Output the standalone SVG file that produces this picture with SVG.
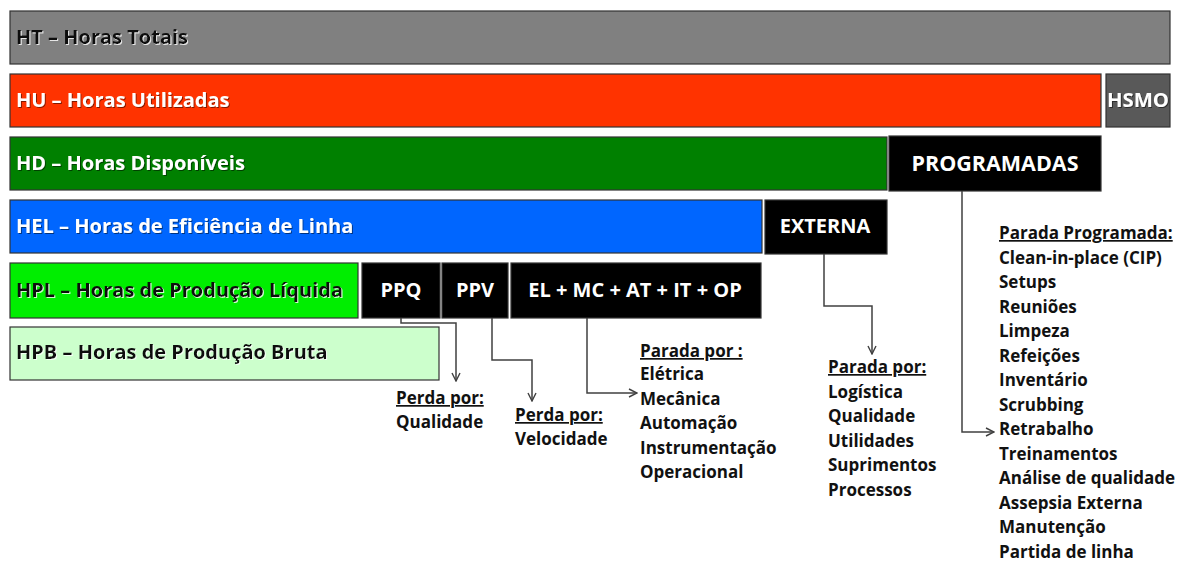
<svg xmlns="http://www.w3.org/2000/svg" width="1185" height="561" viewBox="0 0 1185 561">
<style>
.bar{stroke:#333;stroke-width:1.2}
.lbl{font-family:"Open Sans","Liberation Sans",sans-serif;font-weight:bold;font-size:20px}
.w{fill:#fff}
.k{fill:#111}
.ctr{text-anchor:middle}
.lst{font-family:"Open Sans","Liberation Sans",sans-serif;font-weight:bold;font-size:17px;fill:#111}
.u{text-decoration:underline}
.con{fill:none;stroke:#404040;stroke-width:1.5}
</style>
<defs>
<marker id="arr" viewBox="0 0 10 10" refX="9" refY="5" markerWidth="10" markerHeight="10" markerUnits="userSpaceOnUse" orient="auto">
<path d="M1,1 L9,5 L1,9" fill="none" stroke="#404040" stroke-width="1.4"/>
</marker>
<filter id="sh" x="-5%" y="-20%" width="110%" height="140%"><feDropShadow dx="1" dy="1" stdDeviation="0.6" flood-color="#000" flood-opacity="0.5"/></filter>
<filter id="shl" x="-5%" y="-20%" width="110%" height="140%"><feDropShadow dx="1" dy="1" stdDeviation="0.6" flood-color="#fff" flood-opacity="0.8"/></filter>
</defs>
<rect width="1185" height="561" fill="#fff"/>

<g id="HT"><rect class="bar" x="10" y="11" width="1160" height="53" fill="#808080"/><text class="lbl k" x="16" y="44" filter="url(#shl)">HT – Horas Totais</text></g>
<g id="HU"><rect class="bar" x="10" y="74" width="1091" height="53" fill="#FF3300"/><text class="lbl w" x="16" y="107" filter="url(#sh)">HU – Horas Utilizadas</text></g>
<g id="HSMO"><rect class="bar" x="1106" y="74" width="64" height="53" fill="#595959"/><text class="lbl w ctr" x="1138" y="107" filter="url(#sh)" textLength="62" lengthAdjust="spacingAndGlyphs">HSMO</text></g>
<g id="HD"><rect class="bar" x="10" y="137" width="877" height="53" fill="#008000"/><text class="lbl w" x="16" y="170" filter="url(#sh)">HD – Horas Disponíveis</text></g>
<g id="PROGRAMADAS"><rect class="bar" x="889" y="136" width="212" height="55" fill="#000"/><text class="lbl w ctr" x="995" y="171" style="font-size:21.5px">PROGRAMADAS</text></g>
<g id="HEL"><rect class="bar" x="10" y="200" width="752" height="53" fill="#0066FF"/><text class="lbl w" x="16" y="233" filter="url(#sh)">HEL – Horas de Eficiência de Linha</text></g>
<g id="EXTERNA"><rect class="bar" x="765" y="200" width="122" height="54" fill="#000"/><text class="lbl w ctr" x="825" y="233">EXTERNA</text></g>
<g id="HPL"><rect class="bar" x="10" y="263" width="348" height="55" fill="#00EE00"/><text class="lbl k" x="16" y="297" filter="url(#shl)">HPL – Horas de Produção Líquida</text></g>
<g id="PPQ"><rect class="bar" x="362" y="263" width="78" height="55" fill="#000"/><text class="lbl w ctr" x="401" y="297">PPQ</text></g>
<g id="PPV"><rect class="bar" x="442" y="263" width="66" height="55" fill="#000"/><text class="lbl w ctr" x="475" y="297">PPV</text></g>
<g id="PARADAS"><rect class="bar" x="511" y="263" width="250" height="55" fill="#000"/><text class="lbl w ctr" x="635" y="297">EL + MC + AT + IT + OP</text></g>
<g id="HPB"><rect class="bar" x="10" y="327" width="429" height="53" fill="#CCFFCC"/><text class="lbl k" x="16" y="359" filter="url(#shl)">HPB – Horas de Produção Bruta</text></g>

<g id="connectors">
<path class="con" d="M401,318 V323 H456 V381" marker-end="url(#arr)"/>
<path class="con" d="M492,318 V360 H532 V401" marker-end="url(#arr)"/>
<path class="con" d="M587,318 V393 H637" marker-end="url(#arr)"/>
<path class="con" d="M824,254 V306 H872 V354" marker-end="url(#arr)"/>
<path class="con" d="M962,191 V432 H994" marker-end="url(#arr)"/>
</g>

<g id="perda-qualidade">
<text class="lst" x="396" y="404"><tspan class="u">Perda por:</tspan><tspan x="396" dy="24">Qualidade</tspan></text>
</g>
<g id="perda-velocidade">
<text class="lst" x="515" y="421"><tspan class="u">Perda por:</tspan><tspan x="515" dy="24">Velocidade</tspan></text>
</g>
<g id="parada-interna">
<text class="lst" x="640" y="357"><tspan class="u">Parada por :</tspan><tspan x="640" dy="23">Elétrica</tspan><tspan x="640" dy="24.5">Mecânica</tspan><tspan x="640" dy="24.5">Automação</tspan><tspan x="640" dy="24.5">Instrumentação</tspan><tspan x="640" dy="24.5">Operacional</tspan></text>
</g>
<g id="parada-externa">
<text class="lst" x="828" y="373"><tspan class="u">Parada por:</tspan><tspan x="828" dy="24.5">Logística</tspan><tspan x="828" dy="24.5">Qualidade</tspan><tspan x="828" dy="24.5">Utilidades</tspan><tspan x="828" dy="24.5">Suprimentos</tspan><tspan x="828" dy="24.5">Processos</tspan></text>
</g>
<g id="parada-programada">
<text class="lst" x="999" y="239"><tspan class="u">Parada Programada:</tspan><tspan x="999" dy="24.5">Clean-in-place (CIP)</tspan><tspan x="999" dy="24.5">Setups</tspan><tspan x="999" dy="24.5">Reuniões</tspan><tspan x="999" dy="24.5">Limpeza</tspan><tspan x="999" dy="24.5">Refeições</tspan><tspan x="999" dy="24.5">Inventário</tspan><tspan x="999" dy="24.5">Scrubbing</tspan><tspan x="999" dy="24.5">Retrabalho</tspan><tspan x="999" dy="24.5">Treinamentos</tspan><tspan x="999" dy="24.5">Análise de qualidade</tspan><tspan x="999" dy="24.5">Assepsia Externa</tspan><tspan x="999" dy="24.5">Manutenção</tspan><tspan x="999" dy="24.5">Partida de linha</tspan></text>
</g>
</svg>
